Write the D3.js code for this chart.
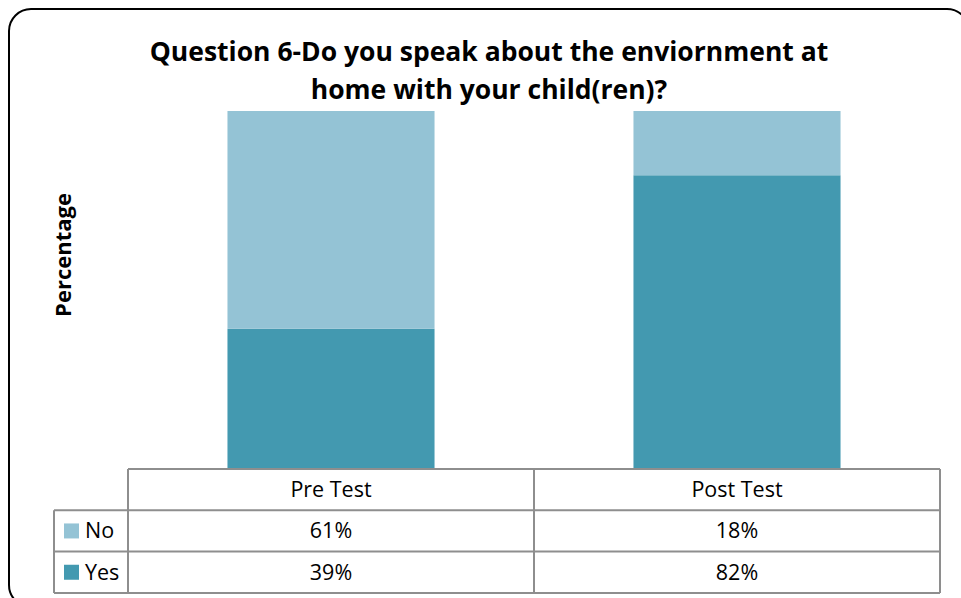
<!DOCTYPE html>
<html>
<head>
<meta charset="utf-8">
<script src="https://cdn.jsdelivr.net/npm/d3@7"></script>
<style>
  html, body { margin: 0; padding: 0; background: #fff; }
  svg { display: block; }
</style>
</head>
<body>
<svg id="chart" width="961" height="598"></svg>
<script>
// Survey results, percentage of respondents
const categories = ["Pre Test", "Post Test"];
const seriesNames = ["No", "Yes"];
const noValues = [61, 18];
const yesValues = [39, 82];
const titleLines = ["Question 6-Do you speak about the enviornment at", "home with your child(ren)?"];
const yAxisTitle = "Percentage";

const colors = { No: "#94C3D5", Yes: "#4399B0" };
const font = "'Open Sans', 'Liberation Sans', sans-serif";

const svg = d3.select("#chart");

// rounded outer frame
svg.append("rect")
  .attr("x", 9).attr("y", 9)
  .attr("width", 960).attr("height", 598)
  .attr("rx", 22).attr("ry", 22)
  .attr("fill", "#fff")
  .attr("stroke", "#000")
  .attr("stroke-width", 2);

const plot = { left: 128, right: 940, top: 111, bottom: 468 };

const x = d3.scaleBand()
  .domain(categories)
  .range([plot.left, plot.right])
  .paddingInner(0.49)
  .paddingOuter(0.245);

const y = d3.scaleLinear().domain([0, 100]).range([plot.bottom, plot.top]);

const rows = categories.map((c, i) => ({ cat: c, No: noValues[i], Yes: yesValues[i] }));
const stack = d3.stack().keys(["Yes", "No"])(rows);

svg.append("g").selectAll("g")
  .data(stack)
  .join("g")
  .attr("fill", d => colors[d.key])
  .selectAll("rect")
  .data(d => d)
  .join("rect")
  .attr("x", d => x(d.data.cat))
  .attr("width", x.bandwidth())
  .attr("y", d => y(d[1]))
  .attr("height", d => y(d[0]) - y(d[1]));

// title
svg.append("text")
  .attr("x", 489).attr("y", 61)
  .attr("text-anchor", "middle")
  .attr("font-family", font)
  .attr("font-weight", "bold")
  .attr("font-size", 26.5)
  .attr("fill", "#000")
  .selectAll("tspan")
  .data(titleLines)
  .join("tspan")
  .attr("x", 489)
  .attr("dy", (d, i) => i === 0 ? 0 : 38)
  .text(d => d);

// y axis title
svg.append("text")
  .attr("transform", "translate(71,255) rotate(-90)")
  .attr("text-anchor", "middle")
  .attr("font-family", font)
  .attr("font-weight", "bold")
  .attr("font-size", 22)
  .attr("fill", "#000")
  .text(yAxisTitle);

// data table below the plot
const tbl = { legendLeft: 54, top: 469, rowH: 41.3 };
const lineColor = "#8E8E8E";
const table = svg.append("g").attr("stroke", lineColor).attr("stroke-width", 2).attr("fill", "none");
const nRows = seriesNames.length + 1;
const bottom = tbl.top + tbl.rowH * nRows;

// horizontal lines
table.append("line").attr("x1", plot.left).attr("x2", plot.right).attr("y1", tbl.top).attr("y2", tbl.top);
for (let r = 1; r <= nRows; r++) {
  const yy = tbl.top + tbl.rowH * r;
  table.append("line").attr("x1", tbl.legendLeft).attr("x2", plot.right).attr("y1", yy).attr("y2", yy);
}
// vertical lines
table.append("line").attr("x1", tbl.legendLeft).attr("x2", tbl.legendLeft)
  .attr("y1", tbl.top + tbl.rowH).attr("y2", bottom);
const colEdges = [plot.left].concat(categories.map(c => x(c) + x.bandwidth() / 2 + x.step() / 2));
colEdges.forEach(cx => {
  table.append("line").attr("x1", cx).attr("x2", cx).attr("y1", tbl.top).attr("y2", bottom);
});

const cellText = svg.append("g")
  .attr("font-family", font)
  .attr("font-size", 21.5)
  .attr("fill", "#000");

categories.forEach((c, i) => {
  const cx = x(c) + x.bandwidth() / 2;
  cellText.append("text")
    .attr("x", cx).attr("y", tbl.top + tbl.rowH / 2 + 7.5)
    .attr("text-anchor", "middle").text(c);
  const vals = [noValues[i], yesValues[i]];
  vals.forEach((v, r) => {
    cellText.append("text")
      .attr("x", cx).attr("y", tbl.top + tbl.rowH * (r + 1.5) + 7.5)
      .attr("text-anchor", "middle").text(v + "%");
  });
});

seriesNames.forEach((s, r) => {
  const cy = tbl.top + tbl.rowH * (r + 1.5);
  svg.append("rect")
    .attr("x", 64).attr("y", cy - 7.5)
    .attr("width", 15).attr("height", 15)
    .attr("fill", colors[s]);
  cellText.append("text")
    .attr("x", 85).attr("y", cy + 7.5)
    .text(s);
});
</script>
</body>
</html>
